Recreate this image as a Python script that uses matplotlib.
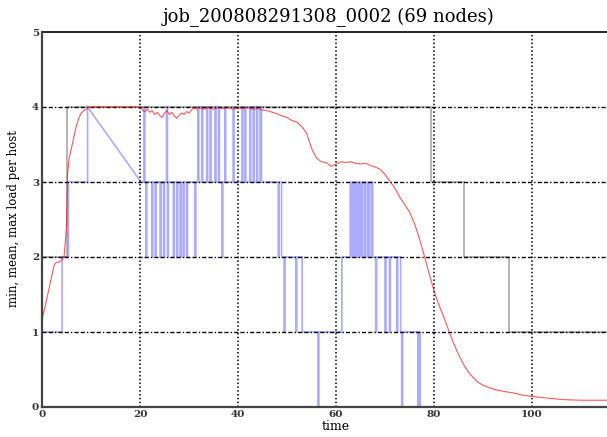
import matplotlib
matplotlib.use("Agg")
import matplotlib.pyplot as plt
import numpy as np

TITLE = "job_200808291308_0002 (69 nodes)"
X_END = 120

# mean load (red), sampled along the curve
mean_t = [0, 0.5, 1, 1.5, 2, 2.5, 3, 3.5, 4, 4.5, 5, 5.2, 5.5, 6, 6.5, 7, 7.5, 8, 8.5, 9, 9.4,
          20.0, 20.5, 21.0, 21.5, 22.0, 22.5, 23.0, 23.5, 24.0, 24.5, 25.0, 25.5, 26.0, 26.5,
          27.0, 27.5, 28.0, 28.5, 29.0, 29.5, 30.0, 30.5, 31.0, 31.5, 32, 33, 34, 35, 36, 37,
          38, 39, 40, 41, 42, 43, 44, 45, 46, 47, 48, 49, 50, 51, 52, 53, 54, 55, 56, 57, 58,
          59, 60, 61, 62, 63, 64, 65, 66, 67, 68, 69, 70, 71, 72, 73, 74, 75, 76, 77, 78, 79,
          80, 81, 82, 83, 84, 85, 86, 87, 88, 89, 90, 92, 94, 96, 98, 100, 103, 106, 110, 120]
mean_v = [1.16, 1.3, 1.45, 1.6, 1.75, 1.9, 1.93, 1.93, 1.96, 2.0, 2.4, 3.1, 3.3, 3.45, 3.6,
          3.75, 3.85, 3.92, 3.95, 3.97, 4.0,
          4.00, 3.96, 3.94, 3.97, 3.93, 3.95, 3.90, 3.93, 3.89, 3.86, 3.92, 3.95, 3.90, 3.93,
          3.88, 3.85, 3.89, 3.92, 3.90, 3.94, 3.92, 3.96, 3.99, 3.97, 3.99, 3.97, 3.99, 3.97,
          3.99, 3.98, 3.99, 3.97, 3.99, 3.98, 3.99, 3.97, 3.98, 3.96, 3.95, 3.93, 3.91, 3.88,
          3.86, 3.82, 3.80, 3.74, 3.65, 3.45, 3.32, 3.27, 3.26, 3.21, 3.24, 3.27, 3.26, 3.27,
          3.25, 3.24, 3.25, 3.22, 3.20, 3.17, 3.10, 3.01, 2.92, 2.80, 2.70, 2.60, 2.45, 2.25,
          2.02, 1.78, 1.55, 1.36, 1.20, 1.02, 0.85, 0.70, 0.57, 0.47, 0.39, 0.33, 0.29, 0.24,
          0.21, 0.19, 0.16, 0.14, 0.12, 0.10, 0.09, 0.09]

# max load (gray): change times and new values
max_t = [0, 5.2, 79.4, 86.2, 95.3]
max_v = [2, 4, 3, 2, 1]

# min load (blue): change times and new values
min_t = [0, 4.1, 5.4, 9.3, 20.2,
         20.8, 21.0, 21.2, 21.4, 22.4, 22.6, 23.1, 23.3, 24.1, 24.3, 24.8, 25.0, 25.4, 25.6,
         25.8, 26.8, 27.0, 27.5, 27.7, 28.2, 28.4, 28.8, 29.0, 29.5, 29.7, 31.2, 31.4, 31.8,
         32.0, 32.6, 32.8, 33.6, 33.8, 34.3, 34.5, 35.3, 35.5, 36.0, 36.2, 36.7, 36.9, 37.3,
         37.5, 39.0, 39.2, 40.8, 41.0, 41.4, 41.6, 42.4, 42.6, 43.1, 43.3, 43.8, 44.0, 44.5,
         44.8, 48.2, 48.4, 48.9, 49.4, 49.6, 51.8, 52.0, 53.1, 56.3, 56.5, 61.2,
         62.9, 63.1, 63.4, 63.6, 63.9, 64.2, 64.5, 64.8, 65.1, 65.4, 65.8, 66.1, 66.5, 66.8,
         67.2, 67.5, 68.1, 68.3, 70.0, 70.2, 70.9, 71.1, 72.4, 72.6, 73.2, 73.4, 73.6, 76.7,
         76.9, 77.2]
min_v = [1, 2, 3, 4, 3,
         4, 3, 2, 3, 2, 3, 2, 3, 2, 3, 2, 3, 4, 2,
         3, 2, 3, 2, 3, 2, 3, 2, 3, 2, 3, 2, 3, 4,
         3, 4, 3, 4, 3, 4, 3, 4, 3, 4, 3, 2, 3, 4,
         3, 4, 3, 4, 3, 4, 3, 4, 3, 4, 3, 4, 3, 4,
         3, 2, 3, 2, 1, 2, 1, 2, 1, 0, 1, 2,
         3, 2, 3, 2, 3, 2, 3, 2, 3, 2, 3, 2, 3, 2,
         3, 2, 1, 2, 1, 2, 1, 2, 1, 2, 1, 0, 1, 0,
         1, 0]


def step_path(times, values, end, gap=None):
    # hold each value until the next change; long gaps in the samples are joined straight
    xs, ys = [times[0]], [values[0]]
    for i in range(1, len(times)):
        if gap is None or times[i] - times[i - 1] < gap:
            xs.append(times[i])
            ys.append(values[i - 1])
        xs.append(times[i])
        ys.append(values[i])
    xs.append(end)
    ys.append(values[-1])
    return np.array(xs), np.array(ys)


fig = plt.figure(figsize=(6.07, 4.37), dpi=100)
ax = fig.add_axes([42 / 607, 30 / 437, 588 / 607, 375 / 437])

# grid sits over the min/max steps but under the mean curve
for y in [1, 2, 3, 4]:
    ax.axhline(y, color="black", lw=1.0, ls=(0, (3, 1.5, 3, 1.5, 1, 1.5)), zorder=3)
for x in [20, 40, 60, 80, 100]:
    ax.axvline(x, color="black", lw=1.1, ls=(0, (1, 1.5)), zorder=3)

gx, gy = step_path(max_t, max_v, X_END)
ax.plot(gx, gy, color="#a8a8a8", lw=1.2, zorder=1)
bx, by = step_path(min_t, min_v, X_END, gap=5.0)
ax.plot(bx, by, color="blue", lw=1.2, alpha=0.33, zorder=2)
ax.plot(mean_t, mean_v, color="red", lw=0.8, alpha=0.65, zorder=4)

ax.set_xlim(0, X_END)
ax.set_ylim(0, 5)
ax.set_xticks([0, 20, 40, 60, 80, 100])
ax.set_yticks([0, 1, 2, 3, 4, 5])
ax.tick_params(length=0, labelsize=7.5, pad=2)
for lab in ax.get_xticklabels() + ax.get_yticklabels():
    lab.set_fontfamily("DejaVu Serif")
    lab.set_fontweight("bold")
    lab.set_color("#333333")
for side in ["left", "bottom"]:
    ax.spines[side].set_linewidth(1.6)
    ax.spines[side].set_color("#444444")
    ax.spines[side].set_zorder(6)
ax.spines["top"].set_linewidth(1.2)
ax.spines["right"].set_visible(False)

ax.set_xlabel("time", fontfamily="DejaVu Serif", fontsize=9, labelpad=1)
fig.text(14 / 607, 0.5, "min, mean, max load per host", rotation=90, ha="center", va="center",
         fontfamily="DejaVu Serif", fontsize=8.5)
fig.text(329 / 607, 1 - 17 / 437, TITLE, ha="center", va="center",
         fontfamily="DejaVu Serif", fontsize=13)

fig.savefig("out.png", dpi=100)
